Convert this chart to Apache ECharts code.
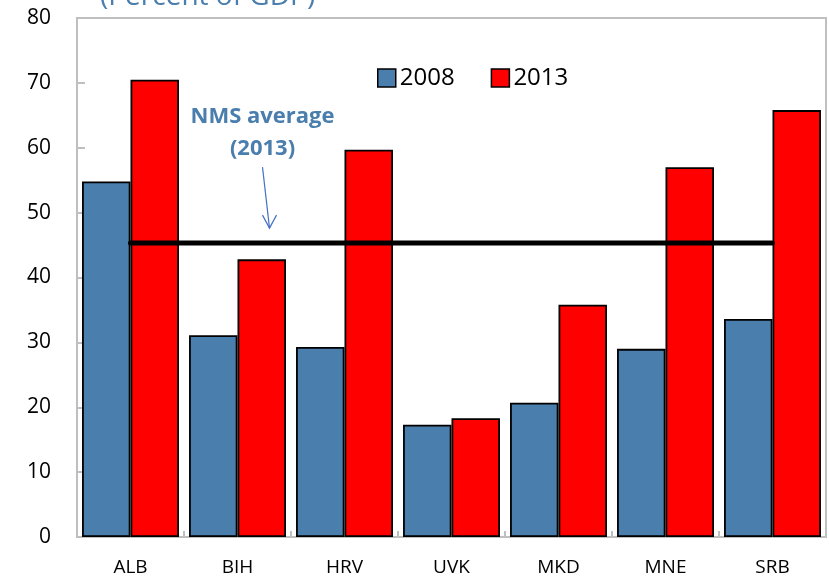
<!DOCTYPE html>
<html><head><meta charset="utf-8">
<script src="https://cdn.jsdelivr.net/npm/echarts@6/dist/echarts.min.js"></script>
<style>html,body{margin:0;padding:0;background:#fff}#c{width:829px;height:580px}</style>
</head><body><div id="c"></div>
<script>
const categories = ['ALB','BIH','HRV','UVK','MKD','MNE','SRB'];
const values2008 = [54.8, 31.1, 29.3, 17.3, 20.7, 29.0, 33.6];
const values2013 = [70.5, 42.8, 59.7, 18.3, 35.8, 57.0, 65.8];
const nmsAverage2013 = 45.3;
const yTicks = [0,10,20,30,40,50,60,70,80];

const FONT = '"Open Sans", "Noto Sans", sans-serif';
const BLUE = '#4A7EAD';
const RED = '#FF0000';
const chart = echarts.init(document.getElementById('c'), null, {renderer:'canvas'});
chart.setOption({
  animation: false,
  backgroundColor: '#fff',
  grid: {left: 77, right: 3, top: 18, bottom: 43, show: true, borderColor: '#bfbfbf', borderWidth: 2, backgroundColor: 'transparent'},
  legend: {
    data: ['2008','2013'], left: 372, top: 61, itemWidth: 18, itemHeight: 18, itemGap: 36,
    icon: 'rect', textStyle: {fontSize: 24, color: '#000', fontFamily: FONT, padding: [0,0,0,-1]},
    itemStyle: {borderColor: '#000', borderWidth: 1.5}
  },
  xAxis: {
    type: 'category', data: categories,
    axisLine: {lineStyle: {color: '#bfbfbf', width: 2}},
    axisTick: {show: true, inside: true, length: 6, lineStyle: {color: '#bfbfbf', width: 2}},
    axisLabel: {fontSize: 19, color: '#000', margin: 21, fontFamily: FONT}
  },
  yAxis: {
    type: 'value', min: yTicks[0], max: yTicks[yTicks.length-1], interval: 10,
    axisLine: {show: true, lineStyle: {color: '#bfbfbf', width: 2}},
    axisTick: {show: true, inside: true, length: 8, lineStyle: {color: '#bfbfbf', width: 2}},
    splitLine: {show: false},
    axisLabel: {fontSize: 21, color: '#000', margin: 26, fontFamily: FONT}
  },
  series: [
    {name: '2008', type: 'bar', data: values2008, barGap: '0%', barCategoryGap: '9.4%',
     itemStyle: {color: BLUE, borderColor: '#000', borderWidth: 1.8}},
    {name: '2013', type: 'bar', data: values2013,
     itemStyle: {color: RED, borderColor: '#000', borderWidth: 1.8}},
    {name: 'NMS average', type: 'line', data: categories.map(() => nmsAverage2013),
     symbol: 'none', z: 5, lineStyle: {color: '#000', width: 5, cap: 'round'}}
  ]
});

// annotation positioned from data coordinates
const tip = chart.convertToPixel({gridIndex: 0}, ['BIH', nmsAverage2013]);
const ax = tip[0] + 32, ay = tip[1] - 15;
const sx = ax - 7, sy = ay - 61;
chart.setOption({
  graphic: [
    {type: 'text', left: 100, top: -17, z: 100, style: {text: '(Percent of GDP)', fontSize: 28, fill: BLUE, fontFamily: FONT}},
    {type: 'text', x: sx, y: 117, z: 100, style: {text: 'NMS average', fontSize: 22, fontWeight: 'bold', fill: BLUE, fontFamily: FONT, textAlign: 'center', textVerticalAlign: 'middle'}},
    {type: 'text', x: sx, y: 149, z: 100, style: {text: '(2013)', fontSize: 22, fontWeight: 'bold', fill: BLUE, fontFamily: FONT, textAlign: 'center', textVerticalAlign: 'middle'}},
    {type: 'line', z: 100, shape: {x1: sx, y1: sy, x2: ax, y2: ay}, style: {stroke: '#4472C4', lineWidth: 1.2}},
    {type: 'polyline', z: 100, shape: {points: [[ax - 7, ay - 13], [ax, ay], [ax + 7, ay - 13]]}, style: {stroke: '#4472C4', lineWidth: 1.2, fill: null}}
  ]
});
</script></body></html>
